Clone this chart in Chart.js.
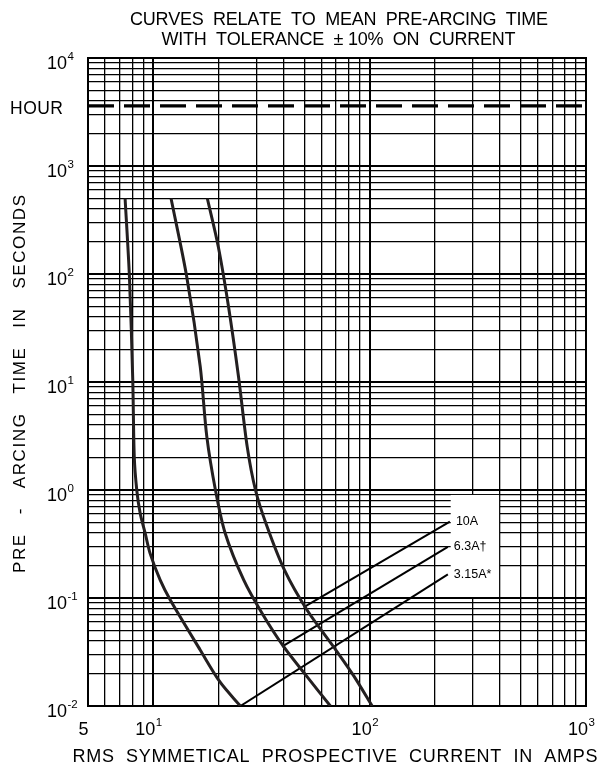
<!DOCTYPE html>
<html><head><meta charset="utf-8">
<script src="https://cdn.jsdelivr.net/npm/chart.js@4.4.0/dist/chart.umd.min.js"></script>
<style>html,body{margin:0;padding:0;background:#fff;}#wrap{width:599px;height:768px;position:relative;}</style>
</head><body><div id="wrap"><canvas id="c"></canvas></div>
<script>
// ---- text ----
const TITLE_LINES = ['CURVES  RELATE  TO  MEAN  PRE-ARCING  TIME', 'WITH  TOLERANCE  \u00B1 10%  ON  CURRENT'];
const X_TITLE = 'RMS  SYMMETICAL  PROSPECTIVE  CURRENT  IN  AMPS';
const Y_TITLE = 'PRE   -   ARCING   TIME   IN   SECONDS';
// ---- axes ----
const X_RANGE = [5, 1000];
const Y_RANGE = [0.01, 10000];
const X_TICKS = [5, 10, 100, 1000];
const X_TICK_BASE = ['5', '10', '10', '10'];
const X_TICK_EXP = ['', '1', '2', '3'];
const Y_TICKS = [10000, 1000, 100, 10, 1, 0.1, 0.01];
const Y_TICK_BASE = ['10', '10', '10', '10', '10', '10', '10'];
const Y_TICK_EXP = ['4', '3', '2', '1', '0', '-1', '-2'];
const HOUR_VALUE = 3600;
const HOUR_LABEL = 'HOUR';
// ---- series (current A, time s) ----
const CURVE_A_I = [7.42, 7.77, 8.05, 8.18, 8.4, 8.71, 9.18, 9.68, 10.77, 12.0, 16.5, 20.4, 25.3];
const CURVE_A_T = [500, 94, 10.4, 2.03, 1.0, 0.608, 0.4, 0.259, 0.147, 0.0957, 0.033, 0.0166, 0.01];
const CURVE_B_I = [12.1, 14.3, 16.5, 17.7, 19.4, 21.5, 26.2, 32.0, 40.1, 51.4, 65.9];
const CURVE_B_T = [500, 94, 13.9, 3.12, 1.0, 0.4, 0.147, 0.0711, 0.0354, 0.0187, 0.01];
const CURVE_C_I = [17.8, 20.0, 22.3, 24.8, 27.2, 29.7, 33.4, 40.4, 51.4, 68.4, 84.5, 102.8];
const CURVE_C_T = [500, 179, 49.8, 11.2, 2.52, 1.0, 0.474, 0.182, 0.0774, 0.035, 0.019, 0.01];
const LINE_LABELS = ['10A', '6.3A\u2020', '3.15A*'];
const LINE_10A_I = [49.5, 235];
const LINE_10A_T = [0.082, 0.51];
const LINE_63A_I = [39.4, 230];
const LINE_63A_T = [0.0354, 0.298];
const LINE_315A_I = [25.3, 230];
const LINE_315A_T = [0.01, 0.1655];
const LEGEND_BOX_I = [237, 400];
const LEGEND_BOX_T = [0.1, 0.9];

// gridline values (1..9 per decade)
function gridValues(min, max) {
  const out = [];
  for (let e = Math.floor(Math.log10(min)); e <= Math.ceil(Math.log10(max)); e++) {
    for (let m = 1; m <= 9; m++) {
      const v = +(m * Math.pow(10, e)).toPrecision(6);
      if (v >= min - 1e-12 && v <= max + 1e-9) out.push(v);
    }
  }
  return out;
}
const X_GRID = gridValues(X_RANGE[0], X_RANGE[1]);
const Y_GRID = gridValues(Y_RANGE[0], Y_RANGE[1]);

const pts = (xs, ys) => xs.map((x, i) => ({x, y: ys[i]}));
const isDecade = v => Math.abs(Math.log10(v) - Math.round(Math.log10(v))) < 1e-9;

const FONT = '"Liberation Sans", Arial, Helvetica, sans-serif';

function spaced(ctx, text, cx, cy, size, target, angle) {
  ctx.save();
  ctx.font = size + 'px ' + FONT;
  ctx.translate(cx, cy);
  if (angle) ctx.rotate(angle);
  const chars = [...text];
  const ws = chars.map(c => ctx.measureText(c).width);
  const natural = ws.reduce((a, b) => a + b, 0);
  const extra = chars.length > 1 ? (target - natural) / (chars.length - 1) : 0;
  let x = -target / 2;
  ctx.textAlign = 'left';
  ctx.textBaseline = 'alphabetic';
  ctx.fillStyle = '#000';
  chars.forEach((c, i) => { ctx.fillText(c, x, 0.358 * size); x += ws[i] + extra; });
  ctx.restore();
}

const decorPlugin = {
  id: 'decor',
  beforeDatasetsDraw(chart) {
    const {ctx, chartArea: a, scales: {x, y}} = chart;
    ctx.save();
    const x0 = x.getPixelForValue(LEGEND_BOX_I[0]);
    const x1 = x.getPixelForValue(LEGEND_BOX_I[1]) - 0.8;
    const y0 = y.getPixelForValue(LEGEND_BOX_T[1]);
    const y1 = y.getPixelForValue(LEGEND_BOX_T[0]) - 1;
    ctx.fillStyle = '#fff';
    ctx.fillRect(x0, y0, x1 - x0, y1 - y0);
    ctx.strokeStyle = '#000';
    ctx.lineWidth = 2;
    ctx.strokeRect(a.left, a.top, a.right - a.left, a.bottom - a.top);
    ctx.restore();
  },
  afterDatasetsDraw(chart) {
    const {ctx, scales: {x, y}} = chart;
    ctx.save();
    ctx.fillStyle = '#000';
    spaced(ctx, TITLE_LINES[0], 339, 18.5, 18, 418);
    spaced(ctx, TITLE_LINES[1], 338.5, 39, 18, 354);
    spaced(ctx, X_TITLE, 335, 756, 18, 525);
    spaced(ctx, Y_TITLE, 18.5, 384, 17, 378, -Math.PI / 2);
    spaced(ctx, HOUR_LABEL, 36.5, y.getPixelForValue(HOUR_VALUE) + 1.5, 17.5, 53);
    const MAIN = 18, SUP = 11.5;
    Y_TICKS.forEach((v, i) => {
      const cy = y.getPixelForValue(v) + 5;
      ctx.font = MAIN + 'px ' + FONT;
      ctx.textAlign = 'right'; ctx.textBaseline = 'alphabetic';
      ctx.fillText(Y_TICK_BASE[i], 67, cy + 0.358 * MAIN);
      ctx.font = SUP + 'px ' + FONT;
      ctx.textAlign = 'left';
      ctx.fillText(Y_TICK_EXP[i], 67.5, cy - 7.5 + 0.358 * SUP);
    });
    X_TICKS.forEach((v, i) => {
      const cy = 729;
      ctx.font = MAIN + 'px ' + FONT;
      const wb = ctx.measureText(X_TICK_BASE[i]).width;
      ctx.font = SUP + 'px ' + FONT;
      const we = X_TICK_EXP[i] ? ctx.measureText(X_TICK_EXP[i]).width + 0.5 : 0;
      const sx = x.getPixelForValue(v) - 4.5 - (wb + we) / 2;
      ctx.font = MAIN + 'px ' + FONT;
      ctx.textAlign = 'left'; ctx.textBaseline = 'alphabetic';
      ctx.fillText(X_TICK_BASE[i], sx, cy + 0.358 * MAIN);
      if (X_TICK_EXP[i]) {
        ctx.font = SUP + 'px ' + FONT;
        ctx.fillText(X_TICK_EXP[i], sx + wb + 0.5, cy - 7.5 + 0.358 * SUP);
      }
    });
    ctx.font = '12.5px ' + FONT;
    ctx.textAlign = 'left'; ctx.textBaseline = 'middle';
    const ends = [[LINE_10A_I, LINE_10A_T], [LINE_63A_I, LINE_63A_T], [LINE_315A_I, LINE_315A_T]];
    ends.forEach(([xs, ts], i) => {
      const px = x.getPixelForValue(xs[xs.length - 1]) + 6;
      const py = y.getPixelForValue(ts[ts.length - 1]);
      ctx.fillText(LINE_LABELS[i], px, py);
    });
    ctx.restore();
  }
};

const curveStyle = {borderColor: '#231f20', borderWidth: 3, pointRadius: 0, tension: 0.3, fill: false};
const lineStyle = {borderColor: '#000', borderWidth: 2, pointRadius: 0, tension: 0, fill: false};

new Chart(document.getElementById('c'), {
  type: 'line',
  data: {
    datasets: [
      Object.assign({label: 'HOUR', data: pts([X_RANGE[0], X_RANGE[1]], [HOUR_VALUE, HOUR_VALUE])},
        {borderColor: '#000', borderWidth: 3.2, borderDash: [26, 10], pointRadius: 0, tension: 0}),
      Object.assign({label: 'curve A', data: pts(CURVE_A_I, CURVE_A_T)}, curveStyle),
      Object.assign({label: 'curve B', data: pts(CURVE_B_I, CURVE_B_T)}, curveStyle),
      Object.assign({label: 'curve C', data: pts(CURVE_C_I, CURVE_C_T)}, curveStyle),
      Object.assign({label: LINE_LABELS[0], data: pts(LINE_10A_I, LINE_10A_T)}, lineStyle),
      Object.assign({label: LINE_LABELS[1], data: pts(LINE_63A_I, LINE_63A_T)}, lineStyle),
      Object.assign({label: LINE_LABELS[2], data: pts(LINE_315A_I, LINE_315A_T)}, lineStyle)
    ]
  },
  options: {
    responsive: true,
    maintainAspectRatio: false,
    animation: false,
    layout: {padding: {left: 88, right: 13, top: 58, bottom: 62}},
    plugins: {legend: {display: false}, tooltip: {enabled: false}, title: {display: false}},
    scales: {
      x: {
        type: 'logarithmic', min: X_RANGE[0], max: X_RANGE[1],
        afterBuildTicks: s => { s.ticks = X_GRID.map(v => ({value: v, major: isDecade(v)})); },
        afterFit: s => { s.height = 0; },
        ticks: {display: false},
        grid: {color: '#000', drawTicks: false, lineWidth: c => (c.tick && isDecade(c.tick.value)) ? 2 : 1.3},
        border: {display: false},
        title: {display: false}
      },
      y: {
        type: 'logarithmic', min: Y_RANGE[0], max: Y_RANGE[1],
        afterBuildTicks: s => { s.ticks = Y_GRID.map(v => ({value: v, major: isDecade(v)})); },
        afterFit: s => { s.width = 0; },
        ticks: {display: false},
        grid: {color: '#000', drawTicks: false, lineWidth: c => (c.tick && isDecade(c.tick.value)) ? 2 : 1.3},
        border: {display: false},
        title: {display: false}
      }
    }
  },
  plugins: [decorPlugin]
});
</script>
</body></html>
